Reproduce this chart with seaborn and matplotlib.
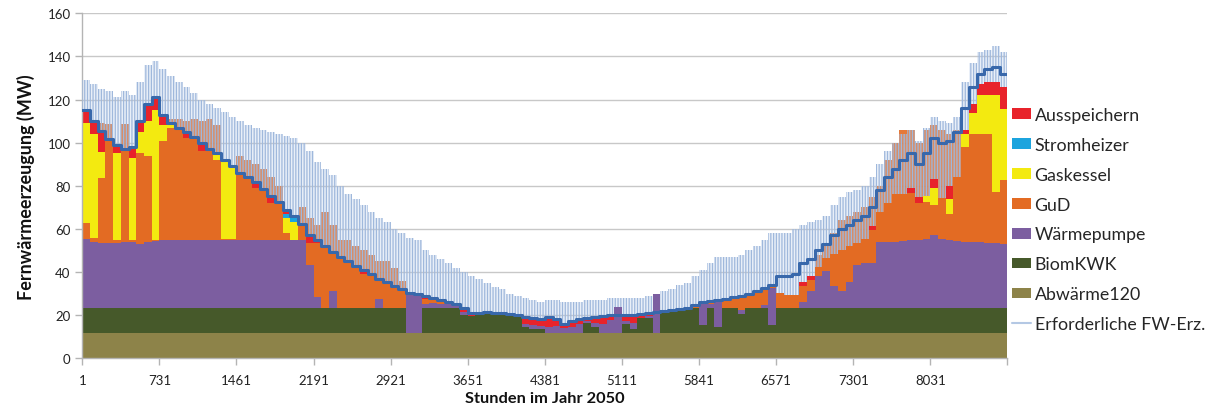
import numpy as np
import pandas as pd
import matplotlib
matplotlib.use("Agg")
import matplotlib.pyplot as plt
import seaborn as sns
from matplotlib.patches import Patch
from matplotlib.lines import Line2D

# ---------------- data (values read per 73-hour block, MW) ----------------
bin_start = np.arange(1, 8760, 73)          # 120 blocks, hour of block start
bin_edges = np.append(bin_start, 8761)

abwaerme120 = [11.6] * 120

biomkwk = ([11.7] * 40
           + [11.7, 11.7, 0, 0, 11.7, 11.7, 11.7, 11.7, 11.7, 8.4]
           + [7.9, 8.4, 8.9, 8.4, 8.4, 8.4, 7.4, 3, 2, 2]
           + [0, 0, 0, 0, 0, 5, 3, 0, 0, 0]
           + [4.4, 2, 6.9, 6.9, 0, 10.4, 10.4, 11.7, 11.7, 11.7]
           + [4, 11.7, 3, 11.7, 11.7, 9, 11.7, 11.7, 11.7, 4]
           + [11.7] * 30)

waermepumpe = ([32, 30.7, 30.2, 30.2, 30.2, 30.7, 30.7, 29.7, 30.7, 31.2]
               + [31.7] * 10
               + [31.7] * 9 + [20]
               + [5, 0, 8, 0, 0, 0, 0, 0, 4, 0]
               + [0, 0, 18.9, 18.4, 2, 2.2, 1.7, 2.7, 1.7, 1.5]
               + [0, 0, 0, 0, 1, 0, 0, 1.4, 1.9, 1.4]
               + [3, 3.4, 2.4, 2.9, 4.4, 0.5, 2, 4.4, 6, 12]
               + [1.5, 3, 0, 1, 18, 0, 0.5, 0, 0, 0]
               + [10.4, 2, 12, 0, 0, 2, 0, 0, 1.2, 17]
               + [0, 0, 0, 3, 8, 15, 17, 10, 8, 12]
               + [20, 21, 21, 30.5, 30.5, 30.5, 31, 31.5, 31.5, 32]
               + [33.7, 32, 31.5, 31, 30.5, 30.5, 30.5, 30, 30, 29.5])

gud = ([7.5, 2, 30, 48, 1.5, 43, 1, 42, 40, 0.5]
       + [46, 52, 51, 47, 47.5, 41, 42, 37, 0.5, 0.5]
       + [31, 29, 24, 23.5, 17, 17.3, 3, 0, 7.3, 10]
       + [25, 28.7, 18.2, 23.7, 21.7, 19.7, 15.7, 15.7, 9.7, 12.2]
       + [10.2, 8.7, 0, 0, 2, 2.5, 2, 0, 0, 0]
       + [0] * 10
       + [0] * 10
       + [0, 0, 0, 0, 0, 0, 0, 0, 0, 1]
       + [0, 1.2, 0, 4, 5, 6, 6, 7, 8, 1]
       + [7, 6, 6, 7, 5, 4, 6, 15, 19, 17]
       + [10, 11, 15, 14.2, 18, 22.2, 22, 22, 17, 17]
       + [14, 19, 12, 29.7, 44, 50, 50.2, 50.7, 24, 30])

gaskessel = ([46.5, 48, 12, 0, 40, 0, 38, 10, 16, 60]
             + [7, 2, 1, 0, 0, 0, 0, 3, 36.5, 33.2]
             + [0, 0, 0, 0, 0, 0, 7, 8, 0, 0]
             + [0] * 70
             + [0, 0, 0, 0, 0, 0, 0, 0, 0, 3]
             + [8, 0, 7, 0, 6, 10, 18, 18, 45, 33])

stromheizer = [0] * 26 + [2, 3] + [0] * 92

ausspeichern = ([6, 6, 10, 0, 4, 0, 5, 5, 8, 6]
                + [5, 0, 0, 3, 0, 4, 0, 0, 0, 0]
                + [0, 0, 2.6, 0, 3.4, 0, 2, 0, 0, 3.7]
                + [1.7, 0, 0, 0, 0, 0, 2, 0, 0, 0]
                + [0, 0, 0, 0, 1.7, 0, 0, 0, 0, 2]
                + [1.5, 1, 1, 1, 0, 0.5, 1, 3, 3, 3]
                + [4, 3, 2, 3, 2, 1.4, 2, 3, 2, 0]
                + [2, 3, 1.5, 1, 0, 0.5, 0, 0, 0, 0]
                + [0, 0, 0, 0.2, 0, 0, 0.7, 0.7, 0, 0]
                + [0, 0, 0, 2, 2, 0, 0, 0, 0, 0]
                + [0, 0, 2, 0, 0, 0, 0, 2, 3, 0]
                + [4, 0, 6, 0, 2, 4, 5, 6, 6, 10])

# required district heat generation: daily low line and daily peaks
demand_low = ([115, 110, 105.5, 101.5, 99, 97, 98, 110, 118, 121]
              + [113, 109, 107, 105, 102.5, 100, 97, 95, 92, 89]
              + [86, 84, 81.6, 78.5, 75.4, 72.3, 69, 66, 62.3, 57]
              + [55, 52, 49.5, 47, 45, 43, 41, 39, 37, 35.5]
              + [33.5, 32, 30.5, 30, 29, 28, 27, 26, 25, 23.5]
              + [21, 21, 21.5, 21, 21, 20.5, 20, 19, 18.5, 18]
              + [19, 18, 16, 17.5, 18, 18.5, 19, 19.5, 20, 20]
              + [20, 20, 20.5, 21, 21.5, 22, 22.5, 23, 23.5, 24.5]
              + [26, 26.5, 27, 27.5, 28.5, 29, 30, 31, 32.5, 34]
              + [38, 38, 39, 44, 46, 50, 53, 57, 60, 62]
              + [64, 66, 70, 78, 84, 88, 92, 95, 90, 95]
              + [102, 100, 101, 105, 116, 126, 132, 134, 135, 132])

demand_high = ([129, 127, 125, 124, 121, 124, 122, 128, 136, 138]
               + [134, 131, 128, 126, 123, 120, 118, 116, 114, 112]
               + [110, 108, 107, 106, 105, 104, 103, 102, 100, 96]
               + [91, 88, 85, 80, 76, 74, 71, 68, 65, 63]
               + [60, 58, 56, 55, 50, 48, 46, 44, 42, 40]
               + [38, 37, 35, 33, 32, 30, 29, 28, 27, 26]
               + [27, 27, 26, 26, 26, 27, 27, 27, 28, 28]
               + [28, 28, 28, 29, 30, 31, 32, 34, 35, 38]
               + [41, 44, 47, 47, 47, 48, 50, 52, 55, 58]
               + [58, 58, 60, 62, 63, 64, 66, 71, 75, 77]
               + [78, 80, 84, 90, 96, 100, 104, 106, 101, 107]
               + [112, 110, 109, 112, 128, 137, 142, 143, 145, 142])

# daily peaks of the GuD output above the solid area
gud_peak = ([0, 0, 109, 108.5, 0, 108.5, 0, 0, 0, 0]
            + [0, 111, 111, 110, 111, 110, 111, 108, 0, 0]
            + [94, 92, 90, 88, 84, 80, 0, 0, 70, 65]
            + [62, 68, 62, 55, 55, 52, 50, 48, 45, 45]
            + [42, 36] + [0] * 8
            + [0] * 40
            + [0, 0, 0, 0, 0, 48, 52, 58, 64, 66]
            + [68, 70, 75, 80, 92, 100, 106, 106, 100, 106]
            + [108, 106, 104, 106, 0, 0, 0, 0, 0, 0])

names = ["Ausspeichern", "Stromheizer", "Gaskessel", "GuD",
         "Wärmepumpe", "BiomKWK", "Abwärme120"]
values = [ausspeichern, stromheizer, gaskessel, gud,
          waermepumpe, biomkwk, abwaerme120]
colors = ["#e8232b", "#1ca4de", "#f3ea10", "#e36b23",
          "#7c5ea0", "#46592a", "#8d8349"]
demand_label = "Erforderliche FW-Erz."

# ---------------- figure ----------------
sns.set_theme(style="white")
plt.rcParams["font.family"] = ["Lato", "DejaVu Sans"]
plt.rcParams["hatch.linewidth"] = 0.9

fig = plt.figure(figsize=(12.1, 4.14), dpi=100)
ax = fig.add_axes([82.3 / 1210, (414 - 359.3) / 414, 925 / 1210, 345 / 414])

df = pd.DataFrame({
    "Stunde": np.tile(bin_start, len(names)).astype(float),
    "MW": np.concatenate([np.asarray(v, float) for v in values]),
    "Quelle": np.repeat(names, len(bin_start)),
})
try:
    sns.histplot(data=df, x="Stunde", weights="MW", hue="Quelle",
                 hue_order=names, palette=dict(zip(names, colors)),
                 multiple="stack", bins=bin_edges.tolist(), element="step",
                 fill=True, alpha=1, linewidth=0, legend=False, ax=ax)
except Exception:
    ax.cla()
    ax.stackplot(bin_edges,
                 *[np.append(np.asarray(v, float), v[-1]) for v in values[::-1]],
                 colors=colors[::-1], step="post", lw=0)

total = np.sum([np.asarray(v, float) for v in values], axis=0)
ext = lambda a: np.append(np.asarray(a, float), a[-1])
tot_e = ext(total)

# daily GuD peaks
ax.fill_between(bin_edges, tot_e, np.maximum(ext(gud_peak), tot_e),
                step="post", facecolor="#e36b23", alpha=0.9, lw=0, zorder=3)
# daily demand spikes: pale haze + fine vertical hatching
ax.fill_between(bin_edges, tot_e, np.maximum(ext(demand_high), tot_e),
                step="post", facecolor=(0.70, 0.78, 0.90, 0.28),
                edgecolor="#9fb8dc", hatch="||||||", lw=0, zorder=4)
sns.lineplot(x=bin_edges, y=ext(demand_low), drawstyle="steps-post",
             color="#3868ab", lw=2.2, ax=ax, zorder=5)

# axes styling
ax.set_xlim(1, 8760)
ax.set_ylim(0, 160)
ax.set_yticks(np.arange(0, 161, 20))
xt = [1 + 730 * i for i in range(12)]
ax.set_xticks(xt + [8760])
ax.set_xticklabels([str(v) for v in xt] + [""])
ax.grid(axis="y", color="#c8c8c8", lw=1.0)
ax.grid(axis="x", visible=False)
ax.set_axisbelow(True)
for s in ["top", "right"]:
    ax.spines[s].set_visible(False)
for s in ["left", "bottom"]:
    ax.spines[s].set_color("#b4b4b4")
    ax.spines[s].set_linewidth(1.0)
ax.tick_params(axis="both", direction="out", length=5, width=1,
               color="#b4b4b4", labelsize=9.5, labelcolor="#222222",
               bottom=True, left=True)
ax.tick_params(axis="x", pad=6)
ax.set_xlabel("Stunden im Jahr 2050", fontsize=11.8, fontweight="bold",
              color="#111111", labelpad=4)
ax.set_ylabel("Fernwärmeerzeugung (MW)", fontsize=13, fontweight="bold",
              color="#111111", labelpad=9)

handles = [Patch(facecolor=c, edgecolor="none") for c in colors]
handles.append(Line2D([0], [0], color="#b4c8e4", lw=1.5))
fig.legend(handles, names + [demand_label], loc="upper left",
           bbox_to_anchor=(1012 / 1210, 1 - 108 / 414), frameon=False,
           fontsize=12.8, handlelength=1.07, handleheight=0.56,
           handletextpad=0.2, labelspacing=0.78, borderpad=0,
           borderaxespad=0)

fig.savefig("out.png", dpi=100)
